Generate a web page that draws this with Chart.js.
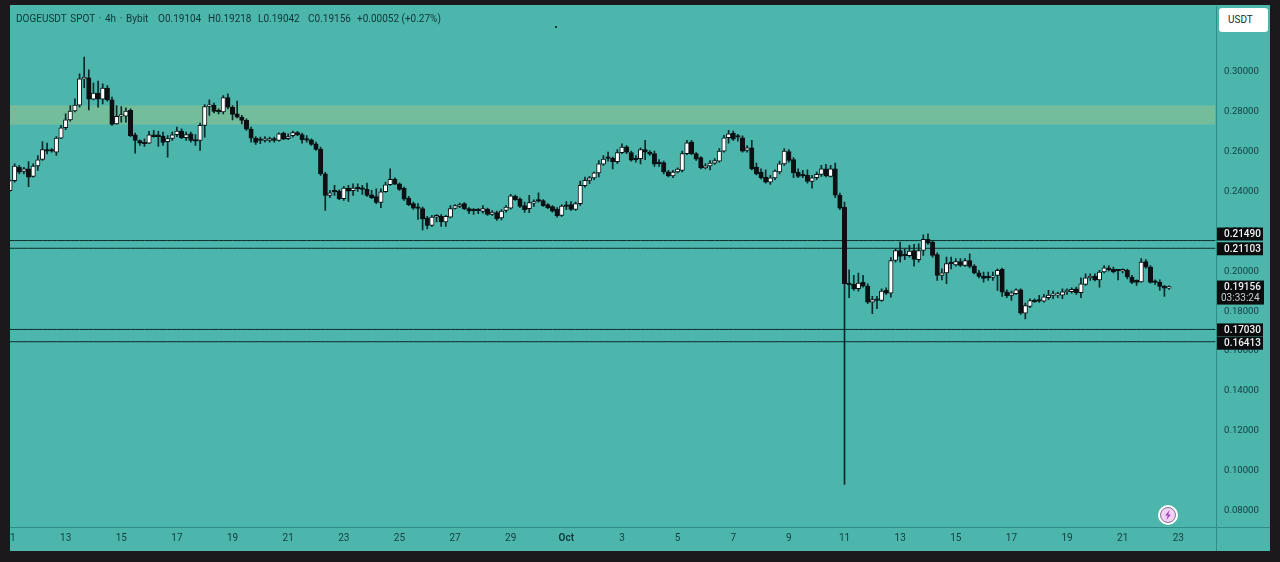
<!DOCTYPE html>
<html>
<head>
<meta charset="utf-8">
<script src="https://cdn.jsdelivr.net/npm/chart.js@4/dist/chart.umd.min.js"></script>
<style>
  html, body { margin: 0; height: 100%; background: #1b191c; overflow: hidden; }
  #wrap { position: absolute; left: 10px; top: 5px; width: 1260px; height: 545px; border-top: 1px solid #4db6ac; background: #4db6ac; }
  canvas { display: block; }
  .legend { position: absolute; top: 13px; font: 10px Roboto, sans-serif; line-height: 12px; color: #0f3438; white-space: nowrap; }
  #unit { position: absolute; left: 1219px; top: 8px; width: 40px; padding-left: 9px; height: 24px; background: #fff; border-radius: 3px;
          font: 10px Roboto, sans-serif; line-height: 24px; color: #222a2e; }
  #dot { position: absolute; left: 555px; top: 26px; width: 2px; height: 2px; background: #123c40; }
  #bolt { position: absolute; left: 1157px; top: 504px; }
</style>
</head>
<body>
<div id="wrap"><canvas id="chart" width="1260" height="545"></canvas></div>
<div class="legend" style="left:16px;word-spacing:1.2px">DOGEUSDT SPOT · 4h · Bybit</div>
<div class="legend" style="left:158px">O0.19104</div>
<div class="legend" style="left:208px">H0.19218</div>
<div class="legend" style="left:258px">L0.19042</div>
<div class="legend" style="left:308px">C0.19156</div>
<div class="legend" style="left:357px">+0.00052 (+0.27%)</div>
<div id="unit">USDT</div>
<div id="dot"></div>
<svg id="bolt" width="22" height="22" viewBox="0 0 22 22">
  <circle cx="11" cy="11" r="10" fill="#fff"/>
  <circle cx="11" cy="11" r="7.5" fill="#f3d0f6" stroke="#2a2a44" stroke-width="0.6"/>
  <path d="M12.6 6 L8.2 11.6 H10.8 L9.4 16 L13.8 10.4 H11.2 Z" fill="#9c3fb5"/>
</svg>
<script>
// Candle values, 4h bars from 11 Sep
const opens = [
  .2400,.2450,.2517,.2496,.2509,.2471,.2523,.2556,.2604,.2603,.2593,.2663,
  .2715,.2755,.2799,.2829,.2960,.2966,.2859,.2889,.2859,.2914,.2855,.2735,
  .2773,.2773,.2802,.2680,.2651,.2641,.2638,.2680,.2676,.2673,.2645,.2661,
  .2680,.2698,.2665,.2685,.2655,.2651,.2727,.2822,.2829,.2797,.2795,.2866,
  .2819,.2785,.2768,.2752,.2708,.2663,.2655,.2651,.2651,.2661,.2651,.2688,
  .2660,.2675,.2691,.2681,.2656,.2655,.2635,.2608,.2484,
  .2376,.2396,.2396,.2359,.2412,.2399,.2412,.2409,.2406,.2379,.2370,.2340,
  .2394,.2429,.2458,.2434,.2411,.2362,.2334,.2314,.2310,.2263,.2225,.2267,
  .2270,.2242,.2267,.2310,.2320,.2334,.2309,.2304,.2304,.2295,.2307,.2280,
  .2289,.2262,.2300,.2312,.2371,.2357,.2325,.2309,.2337,.2349,.2350,.2329,
  .2320,.2307,.2275,.2325,.2329,.2305,.2334,.2424,.2451,.2463,.2489,.2533,
  .2563,.2563,.2545,.2590,.2620,.2591,.2561,.2560,.2606,.2593,.2585,.2540,
  .2540,.2494,.2473,.2493,.2501,.2585,.2643,.2585,.2565,.2514,.2524,.2538,
  .2548,.2598,.2665,.2688,.2672,.2665,.2601,.2615,.2518,.2493,.2468,.2442,
  .2463,.2493,.2534,.2596,.2555,.2493,.2476,.2476,.2446,.2464,.2481,.2509,
  .2471,.2509,.2376,.2317,.1931,.1929,.1907,.1939,.1920,.1840,.1852,.1849,
  .1899,.1885,.2049,.2099,.2076,.2073,.2099,.2053,.2099,.2155,.2141,.2078,
  .1974,.1987,.2036,.2027,.2044,.2024,.2049,.2021,.1987,.1971,.1966,.1964,
  .1974,.2004,.1892,.1874,.1882,.1902,.1785,.1818,.1848,.1848,.1845,.1862,
  .1874,.1875,.1875,.1892,.1892,.1907,.1887,.1929,.1962,.1969,.1951,.1991,
  .2012,.2004,.1999,.1996,.1999,.1966,.1949,.1942,.2044,.2016,.1942,.1939,
  .1919,.19104
];
const closes = [
  .2450,.2523,.2492,.2509,.2467,.2523,.2554,.2606,.2598,.2598,.2663,.2715,
  .2755,.2799,.2829,.2961,.2966,.2859,.2889,.2859,.2914,.2855,.2732,.2773,
  .2776,.2799,.2676,.2651,.2638,.2635,.2680,.2671,.2671,.2641,.2661,.2680,
  .2698,.2665,.2681,.2651,.2648,.2727,.2822,.2829,.2797,.2794,.2866,.2819,
  .2782,.2768,.2752,.2708,.2663,.2641,.2651,.2656,.2661,.2651,.2685,.2658,
  .2671,.2691,.2681,.2655,.2653,.2631,.2606,.2484,.2375,
  .2389,.2393,.2359,.2412,.2397,.2412,.2409,.2406,.2376,.2364,.2340,.2394,
  .2429,.2456,.2432,.2406,.2357,.2329,.2312,.2310,.2258,.2225,.2267,.2270,
  .2242,.2270,.2310,.2324,.2330,.2309,.2297,.2299,.2299,.2309,.2280,.2292,
  .2258,.2297,.2317,.2374,.2354,.2320,.2304,.2339,.2345,.2347,.2324,.2314,
  .2297,.2274,.2322,.2320,.2305,.2334,.2426,.2451,.2464,.2489,.2534,.2558,
  .2561,.2545,.2591,.2618,.2593,.2553,.2555,.2606,.2593,.2583,.2533,.2535,
  .2493,.2474,.2493,.2508,.2585,.2640,.2585,.2558,.2513,.2524,.2538,.2550,
  .2598,.2665,.2685,.2658,.2668,.2598,.2615,.2509,.2484,.2463,.2442,.2464,
  .2498,.2534,.2598,.2551,.2488,.2471,.2473,.2446,.2464,.2481,.2509,.2473,
  .2509,.2377,.2312,.1932,.1927,.1907,.1935,.1920,.1840,.1853,.1849,.1895,
  .1885,.2049,.2099,.2069,.2073,.2096,.2054,.2099,.2155,.2136,.2074,.1974,
  .1987,.2033,.2033,.2044,.2024,.2048,.2019,.1987,.1969,.1959,.1962,.1969,
  .1999,.1890,.1872,.1887,.1902,.1785,.1823,.1848,.1842,.1845,.1867,.1875,
  .1877,.1879,.1892,.1894,.1904,.1887,.1932,.1962,.1966,.1951,.1991,.2012,
  .2002,.1991,.1996,.1999,.1966,.1939,.1939,.2041,.2016,.1939,.1939,.1919,
  .1910,.19156
];
const highs = [
  .2453,.2534,.2526,.2517,.2546,.2534,.2576,.2646,.2638,.2610,.2671,.2727,
  .2785,.2827,.2860,.2986,.3070,.3006,.2939,.2949,.2936,.2927,.2869,.2827,
  .2822,.2815,.2810,.2688,.2655,.2660,.2697,.2702,.2697,.2693,.2676,.2693,
  .2718,.2710,.2693,.2693,.2681,.2738,.2832,.2855,.2839,.2810,.2877,.2886,
  .2827,.2849,.2777,.2760,.2718,.2671,.2668,.2671,.2668,.2668,.2690,.2693,
  .2685,.2698,.2697,.2688,.2676,.2660,.2643,.2618,.2492,
  .2401,.2426,.2404,.2421,.2426,.2434,.2434,.2426,.2437,.2401,.2409,.2409,
  .2442,.2509,.2464,.2439,.2417,.2371,.2342,.2334,.2317,.2270,.2275,.2279,
  .2279,.2275,.2325,.2330,.2337,.2339,.2314,.2310,.2309,.2325,.2312,.2300,
  .2297,.2304,.2325,.2381,.2377,.2364,.2342,.2376,.2354,.2389,.2355,.2334,
  .2325,.2314,.2330,.2345,.2345,.2342,.2447,.2468,.2471,.2493,.2551,.2576,
  .2593,.2568,.2605,.2635,.2626,.2598,.2576,.2615,.2652,.2601,.2598,.2555,
  .2548,.2501,.2501,.2514,.2598,.2652,.2652,.2591,.2571,.2535,.2551,.2560,
  .2610,.2677,.2702,.2698,.2682,.2675,.2626,.2652,.2538,.2509,.2504,.2476,
  .2504,.2548,.2610,.2605,.2565,.2509,.2501,.2504,.2476,.2493,.2526,.2531,
  .2526,.2538,.2387,.2342,.2002,.1974,.1986,.1974,.1932,.1869,.1869,.1907,
  .1912,.2063,.2108,.2141,.2108,.2125,.2130,.2133,.2178,.2183,.2150,.2088,
  .2007,.2066,.2066,.2058,.2058,.2058,.2083,.2029,.1999,.1991,.1991,.1991,
  .2007,.2011,.1902,.1895,.1907,.1907,.1835,.1857,.1857,.1874,.1879,.1899,
  .1895,.1890,.1907,.1907,.1912,.1915,.1962,.1982,.1982,.1982,.1999,.2024,
  .2024,.2016,.2002,.2007,.2006,.1974,.1952,.2058,.2053,.2024,.1952,.1952,
  .1924,.19218
];
const lows = [
  .2397,.2442,.2484,.2484,.2420,.2467,.2501,.2551,.2584,.2593,.2576,.2660,
  .2705,.2748,.2794,.2819,.2916,.2805,.2855,.2819,.2835,.2849,.2727,.2732,
  .2743,.2743,.2671,.2588,.2626,.2621,.2635,.2668,.2621,.2626,.2568,.2651,
  .2671,.2660,.2651,.2643,.2626,.2601,.2668,.2777,.2789,.2785,.2785,.2810,
  .2755,.2765,.2735,.2702,.2643,.2631,.2635,.2643,.2643,.2643,.2648,.2655,
  .2655,.2668,.2676,.2638,.2643,.2626,.2601,.2476,.2300,
  .2364,.2376,.2354,.2350,.2345,.2376,.2396,.2381,.2371,.2359,.2334,.2314,
  .2390,.2426,.2429,.2401,.2350,.2324,.2305,.2255,.2203,.2208,.2220,.2242,
  .2220,.2220,.2262,.2307,.2314,.2304,.2284,.2280,.2284,.2287,.2275,.2275,
  .2250,.2253,.2292,.2307,.2350,.2314,.2290,.2289,.2320,.2342,.2320,.2309,
  .2292,.2267,.2270,.2304,.2300,.2300,.2325,.2417,.2434,.2454,.2468,.2526,
  .2548,.2509,.2535,.2585,.2585,.2548,.2543,.2534,.2555,.2576,.2521,.2521,
  .2484,.2468,.2464,.2488,.2493,.2580,.2580,.2551,.2509,.2508,.2504,.2531,
  .2543,.2593,.2638,.2652,.2648,.2593,.2593,.2504,.2479,.2458,.2437,.2431,
  .2454,.2484,.2526,.2543,.2464,.2464,.2464,.2437,.2412,.2454,.2471,.2468,
  .2468,.2364,.2304,.0925,.1862,.1899,.1895,.1915,.1832,.1782,.1807,.1843,
  .1879,.1865,.2041,.2041,.2053,.2066,.2021,.2041,.2074,.2130,.2066,.1949,
  .1952,.1932,.2007,.2021,.2019,.2019,.2012,.1982,.1962,.1940,.1949,.1949,
  .1899,.1869,.1862,.1848,.1879,.1778,.1756,.1812,.1838,.1838,.1840,.1852,
  .1857,.1862,.1857,.1879,.1885,.1879,.1862,.1924,.1949,.1946,.1915,.1986,
  .1996,.1987,.1952,.1986,.1957,.1932,.1924,.1939,.2011,.1935,.1929,.1899,
  .1869,.19042
];

// Axis labels, one every 12 bars (2 days)
const dateTicks = ['11','13','15','17','19','21','23','25','27','29','Oct','3','5','7','9','11','13','15','17','19','21','23'];
const priceTicks = [0.08,0.10,0.12,0.14,0.16,0.18,0.20,0.22,0.24,0.26,0.28,0.30];

// Horizontal levels and the green zone
const levelPrices = [0.21490, 0.21103, 0.17030, 0.16413];
const zoneTop = 0.2827;
const zoneBottom = 0.2731;
const lastPrice = 0.19156;
const countdown = '03:33:24';

const barCount = 261;
const labels = [];
for (let i = 0; i < barCount; i++) labels.push(i % 12 === 0 ? dateTicks[i / 12] : '');

const flat = v => labels.map(() => v);
const INK = '#0b1113';
const WICK = '#08282a';
const AXIS_LINE = '#2f8d88';

const datasets = [
  { type: 'bar', data: opens.map((o, i) => [o, closes[i]]), order: 1, grouped: false,
    barThickness: 4.4, minBarLength: 1.6, borderSkipped: false, borderWidth: 1, borderColor: INK,
    backgroundColor: opens.map((o, i) => closes[i] >= o ? '#ffffff' : INK) },
  { type: 'bar', data: lows.map((l, i) => [l, highs[i]]), order: 2, grouped: false,
    barThickness: 1, backgroundColor: WICK, borderWidth: 0 },
  { type: 'line', data: flat(zoneTop), order: 5, fill: '+1', backgroundColor: '#74bd9b', borderWidth: 0, pointRadius: 0 },
  { type: 'line', data: flat(zoneBottom), order: 5, borderWidth: 0, pointRadius: 0 }
];
levelPrices.forEach(p => datasets.push({ type: 'line', data: flat(p), order: 4, borderColor: '#0c2a2c', borderWidth: 1, pointRadius: 0 }));

// Right-hand price tags and the panel separators
const tagPlugin = {
  id: 'tags',
  afterDraw(chart) {
    const c = chart.ctx, y = chart.scales.y, area = chart.chartArea;
    const right = Math.ceil(area.right);
    c.save();
    c.fillStyle = AXIS_LINE;
    c.fillRect(right, 0, 1, chart.height);
    c.fillRect(0, area.bottom, chart.width, 1);
    c.textAlign = 'left';
    c.textBaseline = 'middle';
    const tagShift = [-6.5, 0.5, 0.5, 1.5];
    levelPrices.forEach((p, i) => {
      const mid = y.getPixelForValue(p) + tagShift[i];
      c.fillStyle = '#0a0c0e';
      c.fillRect(right + 1, mid - 6.5, 46, 13);
      c.fillStyle = '#f2f4f4';
      c.font = '500 10px Roboto, sans-serif';
      c.fillText(p.toFixed(5), right + 8, mid + 0.5);
    });
    const lastY = y.getPixelForValue(lastPrice);
    c.fillStyle = '#0a0c0e';
    c.fillRect(right + 1, lastY - 6.5, 47, 24);
    c.fillStyle = '#f2f4f4';
    c.font = '500 10px Roboto, sans-serif';
    c.fillText(lastPrice.toFixed(5), right + 8, lastY + 0.5);
    c.font = '10px Roboto, sans-serif';
    c.fillStyle = '#c9d0d0';
    c.fillText(countdown, right + 5, lastY + 11.5);
    c.restore();
  }
};

new Chart(document.getElementById('chart'), {
  data: { labels, datasets },
  plugins: [tagPlugin],
  options: {
    responsive: false,
    animation: false,
    devicePixelRatio: 1,
    layout: { padding: 0 },
    plugins: { legend: { display: false }, tooltip: { enabled: false } },
    scales: {
      x: {
        type: 'category',
        offset: false,
        grid: { display: false, drawTicks: false },
        border: { display: false },
        ticks: {
          autoSkip: false, maxRotation: 0, padding: 5, color: '#123c40',
          font: ctx => ({ family: 'Roboto, sans-serif', size: 10, weight: ctx.tick && ctx.tick.label === 'Oct' ? 'bold' : 'normal' })
        },
        afterFit(s) { s.height = 24; s.paddingLeft = 0; s.paddingRight = 0; }
      },
      y: {
        position: 'right',
        min: 0.07114,
        max: 0.33262,
        grid: { display: false, drawTicks: false },
        border: { display: false },
        afterBuildTicks(s) { s.ticks = priceTicks.map(value => ({ value })); },
        ticks: {
          padding: 8.6, labelOffset: 1, color: '#123c40', font: { family: 'Roboto, sans-serif', size: 9.6 },
          callback: v => v.toFixed(5)
        },
        afterFit(s) { s.width = 54.6; s.paddingTop = 0; s.paddingBottom = 0; }
      }
    }
  }
});
</script>
</body>
</html>
